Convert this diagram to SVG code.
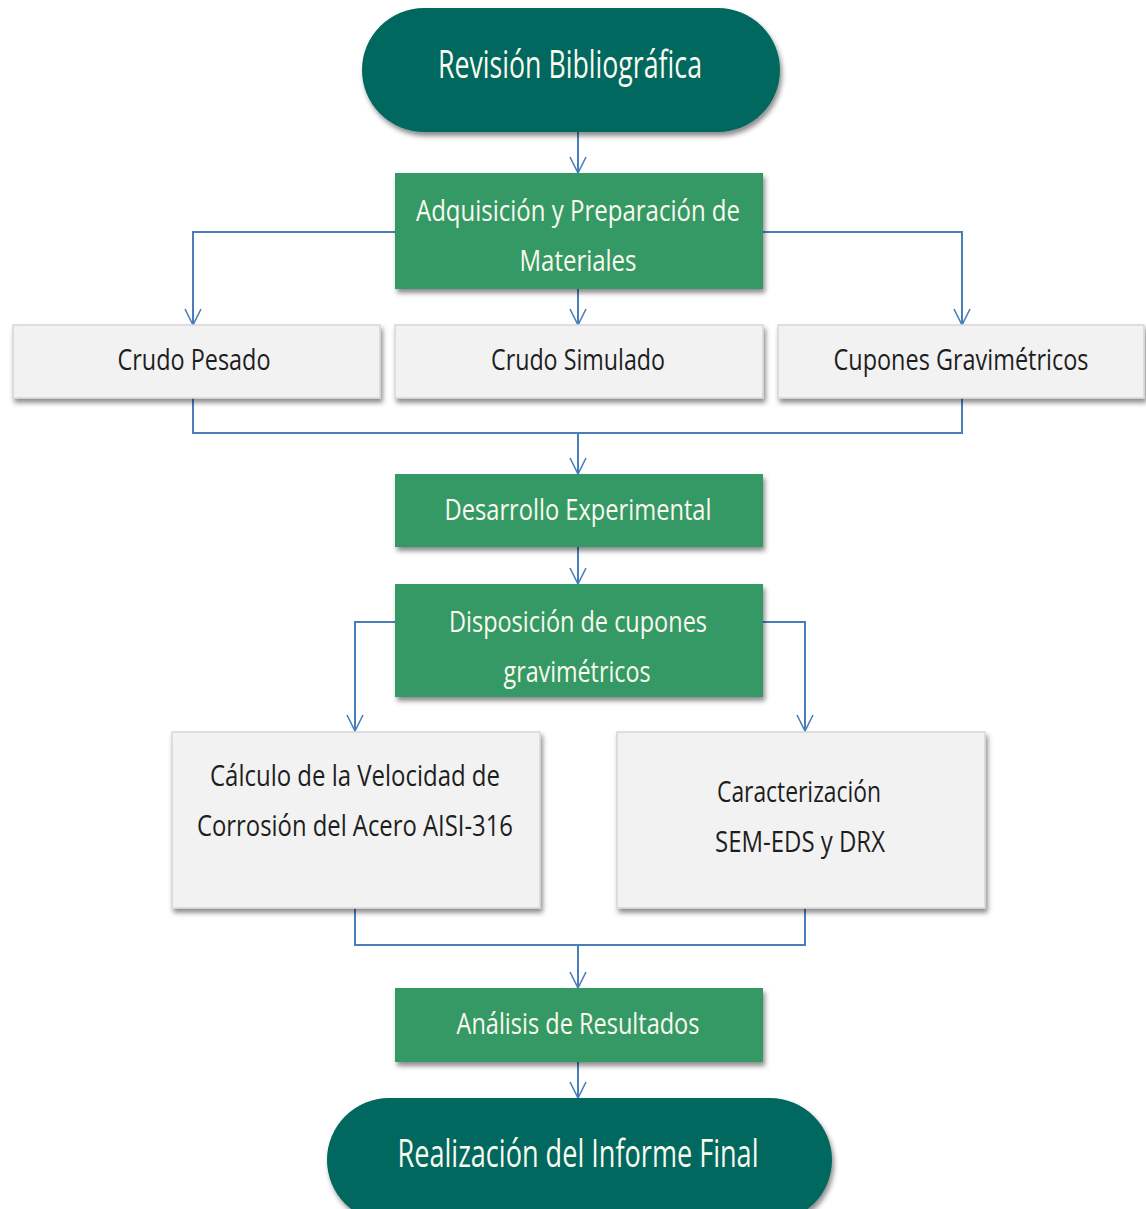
<svg xmlns="http://www.w3.org/2000/svg" width="1146" height="1209" viewBox="0 0 1146 1209">
<defs>
<filter id="sh" x="-10%" y="-10%" width="125%" height="140%">
<feDropShadow dx="2" dy="4" stdDeviation="2.5" flood-color="#000" flood-opacity="0.45"/>
</filter>
<marker id="ah" viewBox="0 0 20 20" refX="18" refY="10" markerWidth="20" markerHeight="20" markerUnits="userSpaceOnUse" orient="auto">
<polyline points="2,2 18,10 2,18" fill="none" stroke="#4A7EBB" stroke-width="1.6"/>
</marker>
</defs>
<style>
.term{fill:#02675F;filter:url(#sh)}
.green{fill:#359966;filter:url(#sh)}
.grey{fill:#F2F2F2;stroke:#D6D6D6;stroke-width:1.5;filter:url(#sh)}
.lt{font-family:"Open Sans","Noto Sans",sans-serif;fill:#FAFAEF;text-anchor:middle}
.dt{font-family:"Open Sans","Noto Sans",sans-serif;fill:#1E1E1E;text-anchor:middle}
.c{fill:none;stroke:#4A7EBB;stroke-width:2}
.a{marker-end:url(#ah)}
</style>
<rect width="1146" height="1209" fill="#FFFFFF"/>
<g id="connectors">
<path class="c a" d="M578,132 V173"/>
<path class="c a" d="M395,232 H193 V325"/>
<path class="c a" d="M578,289 V325"/>
<path class="c a" d="M763,232 H962 V325"/>
<path class="c" d="M193,398 V433 H962 V398"/>
<path class="c a" d="M578,433 V474"/>
<path class="c a" d="M578,547 V584"/>
<path class="c a" d="M395,622 H355 V731"/>
<path class="c a" d="M763,622 H805 V731"/>
<path class="c" d="M355,908 V945 H805 V908"/>
<path class="c a" d="M578,945 V988"/>
<path class="c a" d="M578,1062 V1098"/>
</g>
<g id="n1">
<rect class="term" x="362" y="8" width="418" height="124" rx="62"/>
<text class="lt" x="570" y="78" font-size="38" textLength="264" lengthAdjust="spacingAndGlyphs">Revisión Bibliográfica</text>
</g>
<g id="n2">
<rect class="green" x="395" y="173" width="368" height="116"/>
<text class="lt" x="578" y="221" font-size="30" textLength="324" lengthAdjust="spacingAndGlyphs">Adquisición  y Preparación  de</text>
<text class="lt" x="578" y="271" font-size="30" textLength="117" lengthAdjust="spacingAndGlyphs">Materiales</text>
</g>
<g id="n3">
<rect class="grey" x="13" y="325" width="367" height="73"/>
<text class="dt" x="194" y="370" font-size="30" textLength="153" lengthAdjust="spacingAndGlyphs">Crudo Pesado</text>
</g>
<g id="n4">
<rect class="grey" x="395" y="325" width="368" height="73"/>
<text class="dt" x="578" y="370" font-size="30" textLength="174" lengthAdjust="spacingAndGlyphs">Crudo Simulado</text>
</g>
<g id="n5">
<rect class="grey" x="778" y="325" width="366" height="73"/>
<text class="dt" x="961" y="370" font-size="30" textLength="255" lengthAdjust="spacingAndGlyphs">Cupones Gravimétricos</text>
</g>
<g id="n6">
<rect class="green" x="395" y="474" width="368" height="73"/>
<text class="lt" x="578" y="520" font-size="30" textLength="267" lengthAdjust="spacingAndGlyphs">Desarrollo  Experimental</text>
</g>
<g id="n7">
<rect class="green" x="395" y="584" width="368" height="113"/>
<text class="lt" x="578" y="632" font-size="30" textLength="258" lengthAdjust="spacingAndGlyphs">Disposición  de cupones</text>
<text class="lt" x="577" y="682" font-size="30" textLength="147" lengthAdjust="spacingAndGlyphs">gravimétricos</text>
</g>
<g id="n8">
<rect class="grey" x="172" y="732" width="368" height="176"/>
<text class="dt" x="355" y="786" font-size="30" textLength="290" lengthAdjust="spacingAndGlyphs">Cálculo  de la Velocidad  de</text>
<text class="dt" x="355" y="836" font-size="30" textLength="316" lengthAdjust="spacingAndGlyphs">Corrosión  del Acero AISI-316</text>
</g>
<g id="n9">
<rect class="grey" x="617" y="732" width="368" height="176"/>
<text class="dt" x="799" y="802" font-size="30" textLength="164" lengthAdjust="spacingAndGlyphs">Caracterización</text>
<text class="dt" x="800" y="852" font-size="30" textLength="170" lengthAdjust="spacingAndGlyphs">SEM-EDS  y DRX</text>
</g>
<g id="n10">
<rect class="green" x="395" y="988" width="368" height="74"/>
<text class="lt" x="578" y="1034" font-size="30" textLength="243" lengthAdjust="spacingAndGlyphs">Análisis de Resultados</text>
</g>
<g id="n11">
<rect class="term" x="327" y="1098" width="505" height="124" rx="62"/>
<text class="lt" x="578" y="1167" font-size="38" textLength="361" lengthAdjust="spacingAndGlyphs">Realización  del Informe Final</text>
</g>
</svg>
